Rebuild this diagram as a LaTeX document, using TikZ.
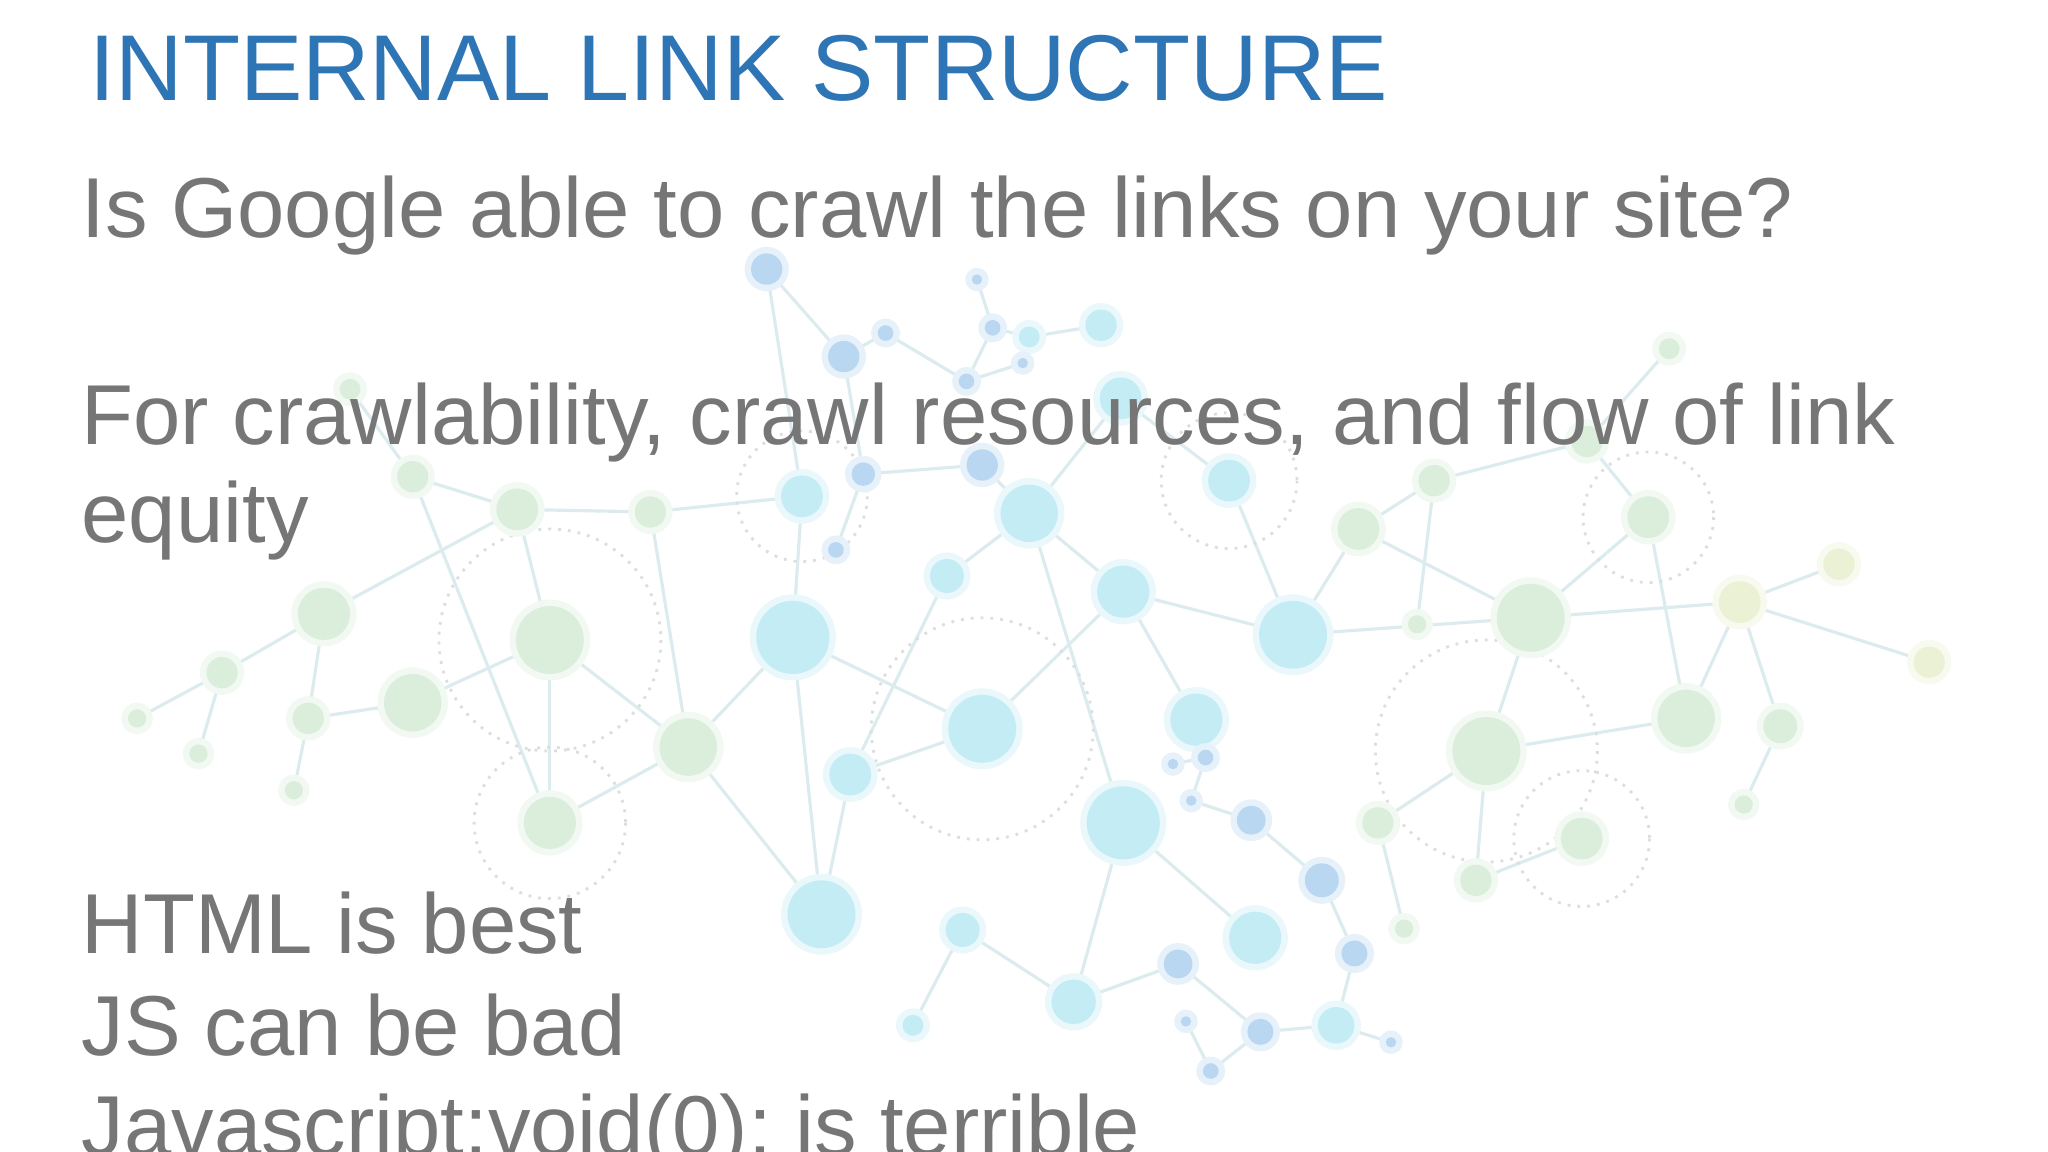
\documentclass[tikz,border=0pt]{standalone}
\usepackage{fontspec}
\setmainfont{Liberation Sans}
\definecolor{titleblue}{RGB}{46,117,182}
\definecolor{txtgray}{RGB}{118,118,118}
\definecolor{ng}{RGB}{200,230,200}
\definecolor{nc}{RGB}{165,226,240}
\definecolor{nb}{RGB}{150,195,235}
\definecolor{ny}{RGB}{225,235,190}
\definecolor{edge}{RGB}{200,225,230}
\tikzset{ring/.style={draw=gray!40,dotted,line width=0.8pt},
 link/.style={draw=edge,line width=0.9pt},
 body/.style={anchor=base west,inner sep=0,text=txtgray,font=\fontsize{24.2pt}{29pt}\selectfont}}
\def\nodelist{a/248/470/20/ng,b/170/515/12/ng,c/105/550/7/ng,d/152/577/7/ng,e/225/605/7/ng,f/236/550/12/ng,g/316/538/22/ng,h/316/365/12/ng,i/268/298/8/ng,j/396/390/16/ng,k/421/490/26/ng,l/421/630/20/ng,m/498/392/12/ng,n/527/572/22/ng,
o/587/206/12/nb,p/646/273/12/nb,q/678/255/6/nb,r/614/380/16/nc,s/661/363/9/nb,t/640/421/6/nb,u/752/356/12/nb,v/740/292/6/nb,w/760/251/6/nb,x/788/258/8/nc,y/843/249/12/nc,z/748/214/4/nb,aa/783/278/4/nb,ab/858/305/16/nc,ac/788/393/22/nc,ad/725/441/13/nc,ae/607/488/28/nc,af/651/593/16/nc,ag/629/700/26/nc,ah/752/558/26/nc,ai/860/453/20/nc,aj/941/368/16/nc,ak/990/486/26/nc,al/916/551/20/nc,am/860/630/28/nc,an/923/580/6/nb,ao/898/585/4/nb,ap/912/613/4/nb,aq/958/628/11/nb,ar/1012/674/13/nb,as/961/718/20/nc,at/1037/730/10/nb,au/1023/785/14/nc,av/965/790/10/nb,aw/902/738/11/nb,ax/822/767/17/nc,ay/737/712/13/nc,az/699/785/8/nc,ba/908/782/4/nb,bb/927/820/6/nb,bc/1065/798/4/nb,
bd/1040/405/16/ng,be/1098/368/12/ng,bf/1085/478/7/ng,bg/1172/473/26/ng,bh/1262/396/16/ng,bi/1278/267/8/ng,bj/1215/338/12/ng,bk/1138/575/26/ng,bl/1055/630/12/ng,bm/1130/674/12/ng,bn/1075/711/7/ng,bo/1211/642/16/ng,bp/1291/550/22/ng,bq/1332/461/16/ny,br/1363/556/13/ng,bs/1335/616/7/ng,bt/1408/432/12/ny,bu/1477/507/12/ny}
\begin{document}
\begin{tikzpicture}[x=0.01306cm,y=-0.01306cm]
\useasboundingbox (0,0) rectangle (1568,882);
\foreach \n/\x/\y/\r/\c in \nodelist {\coordinate (\n) at (\x,\y);}
\foreach \p/\q in {a/b,b/c,b/d,a/f,f/e,f/g,g/k,a/j,j/h,h/i,j/k,k/l,h/l,k/n,l/n,m/n,m/r,j/m,n/ae,ae/r,r/o,o/p,p/q,q/v,p/s,s/t,s/u,v/w,w/x,x/y,v/aa,z/w,u/ac,ac/ad,ad/af,ac/ai,ae/ah,ah/ai,ah/af,af/ag,ae/ag,n/ag,ai/ak,ai/al,ak/aj,aj/ab,ab/ac,ac/am,al/an,an/ao,an/ap,ap/aq,aq/ar,ar/at,at/au,au/av,av/aw,aw/ax,ax/am,ax/ay,ay/az,av/bb,bb/ba,au/bc,as/am,ak/bd,bd/be,be/bf,be/bj,bj/bh,bh/bg,bg/bd,bg/bk,bk/bl,bl/bn,bk/bm,bm/bo,bg/bq,bq/bt,bq/bp,bq/br,br/bs,bq/bu,bh/bp,bi/bj,bk/bp,ak/bg}
  {\draw[link] (\p) -- (\q);}
\foreach \c/\r in {k/85,l/58,r/50,ah/85,aj/52,bk/85,bo/52,bh/50} {\draw[ring] (\c) circle (\r);}
\foreach \n/\x/\y/\r/\c in \nodelist {\fill[\c!35] (\n) circle (\r+5); \fill[\c] (\n) circle (\r);}
\fill[white,opacity=0.35] (0,0) rectangle (1568,882);
\node[anchor=base west,inner sep=0,text=titleblue,font=\fontsize{26.6pt}{32pt}\selectfont] (title) at (68,77) {INTERNAL LINK STRUCTURE};
\node[body] (l1) at (62,182) {Is Google able to crawl the links on your site?};
\node[body] (l2) at (62,340) {For crawlability, crawl resources, and flow of link};
\node[body] (l3) at (62,415) {equity};
\node[body] (l4) at (62,730) {HTML is best};
\node[body] (l5) at (62,808) {JS can be bad};
\node[body] (l6) at (62,885) {Javascript:void(0); is terrible};
\end{tikzpicture}
\end{document}
